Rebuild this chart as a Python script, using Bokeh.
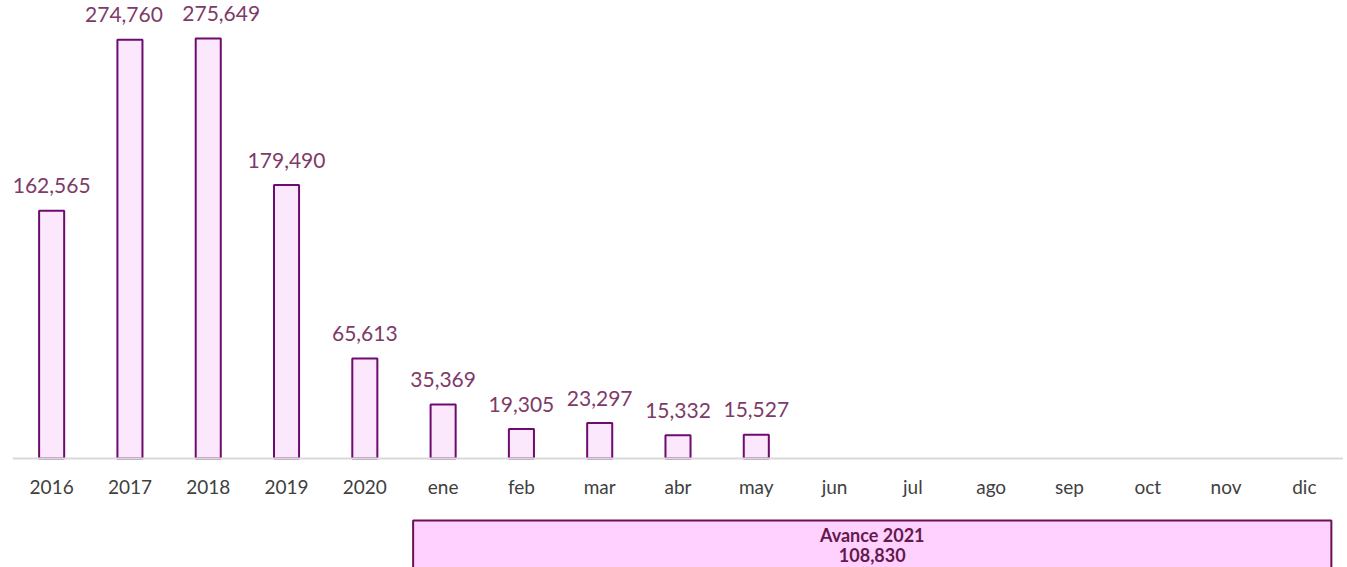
from bokeh.plotting import figure
from bokeh.models import Range1d, FixedTicker, ColumnDataSource, Label
from bokeh.embed import file_html
from bokeh.resources import INLINE
from bokeh.core.properties import value

categories = ["2016", "2017", "2018", "2019", "2020", "ene", "feb", "mar", "abr",
              "may", "jun", "jul", "ago", "sep", "oct", "nov", "dic"]
values = [162565, 274760, 275649, 179490, 65613, 35369, 19305, 23297, 15332, 15527]
box_title = "Avance 2021"
box_total = 108830

# small horizontal nudges (px) applied to value labels to avoid overlap
label_nudge = [0, -6, 13, 0, 0, 0, 0, 0, 0, 0]

FONT = "Lato"

xs = list(range(len(values)))
src = ColumnDataSource(dict(x=xs, top=values, lab=[f"{v:,}" for v in values],
                            dx=label_nudge))

p = figure(width=1343, height=567, output_backend="svg", toolbar_location=None,
           x_range=Range1d(-0.5, len(categories) - 0.5),
           y_range=Range1d(-71537, 300584),
           min_border_left=12, min_border_right=0, min_border_top=0, min_border_bottom=0)
p.outline_line_color = None
p.background_fill_color = "white"
p.border_fill_color = "white"
p.xgrid.visible = False
p.ygrid.visible = False
p.yaxis.visible = False

p.vbar(x="x", top="top", width=0.32, bottom=0, source=src,
       fill_color="#FCE8FC", line_color="#6E0A70", line_width=2)
p.text(x="x", y="top", text="lab", source=src, text_align="center",
       text_baseline="alphabetic", x_offset="dx", y_offset=-25, text_color="#7E3A68",
       text_font=value(FONT), text_font_size="21px")

ax = p.xaxis[0]
ax.fixed_location = 0
ax.ticker = FixedTicker(ticks=list(range(len(categories))))
ax.major_label_overrides = {i: c for i, c in enumerate(categories)}
ax.major_tick_line_color = None
ax.minor_tick_line_color = None
ax.axis_line_color = "#D9D9D9"
ax.axis_line_width = 2
ax.major_label_text_color = "#404040"
ax.major_label_text_font = FONT
ax.major_label_text_font_size = "19px"
ax.major_label_standoff = 11

# summary box below the axis
box_left = 5 - 0.383
box_right = 16 + 0.345
box_top = -40690
p.quad(left=[box_left], right=[box_right], top=[box_top], bottom=[-90000],
       fill_color="#FFD1FF", line_color="#6B1050", line_width=2)
p.add_layout(Label(x=(box_left + box_right) / 2, y=box_top, y_offset=-4,
                   text=box_title, text_align="center", text_baseline="top",
                   text_font=FONT, text_font_style="bold", text_font_size="18px",
                   text_color="#651A4C"))
p.add_layout(Label(x=(box_left + box_right) / 2, y=box_top, y_offset=-28,
                   text=f"{box_total:,}", text_align="center", text_baseline="top",
                   text_font=FONT, text_font_style="bold", text_font_size="18px",
                   text_color="#651A4C"))

open("out.html", "w").write(file_html(p, INLINE))
